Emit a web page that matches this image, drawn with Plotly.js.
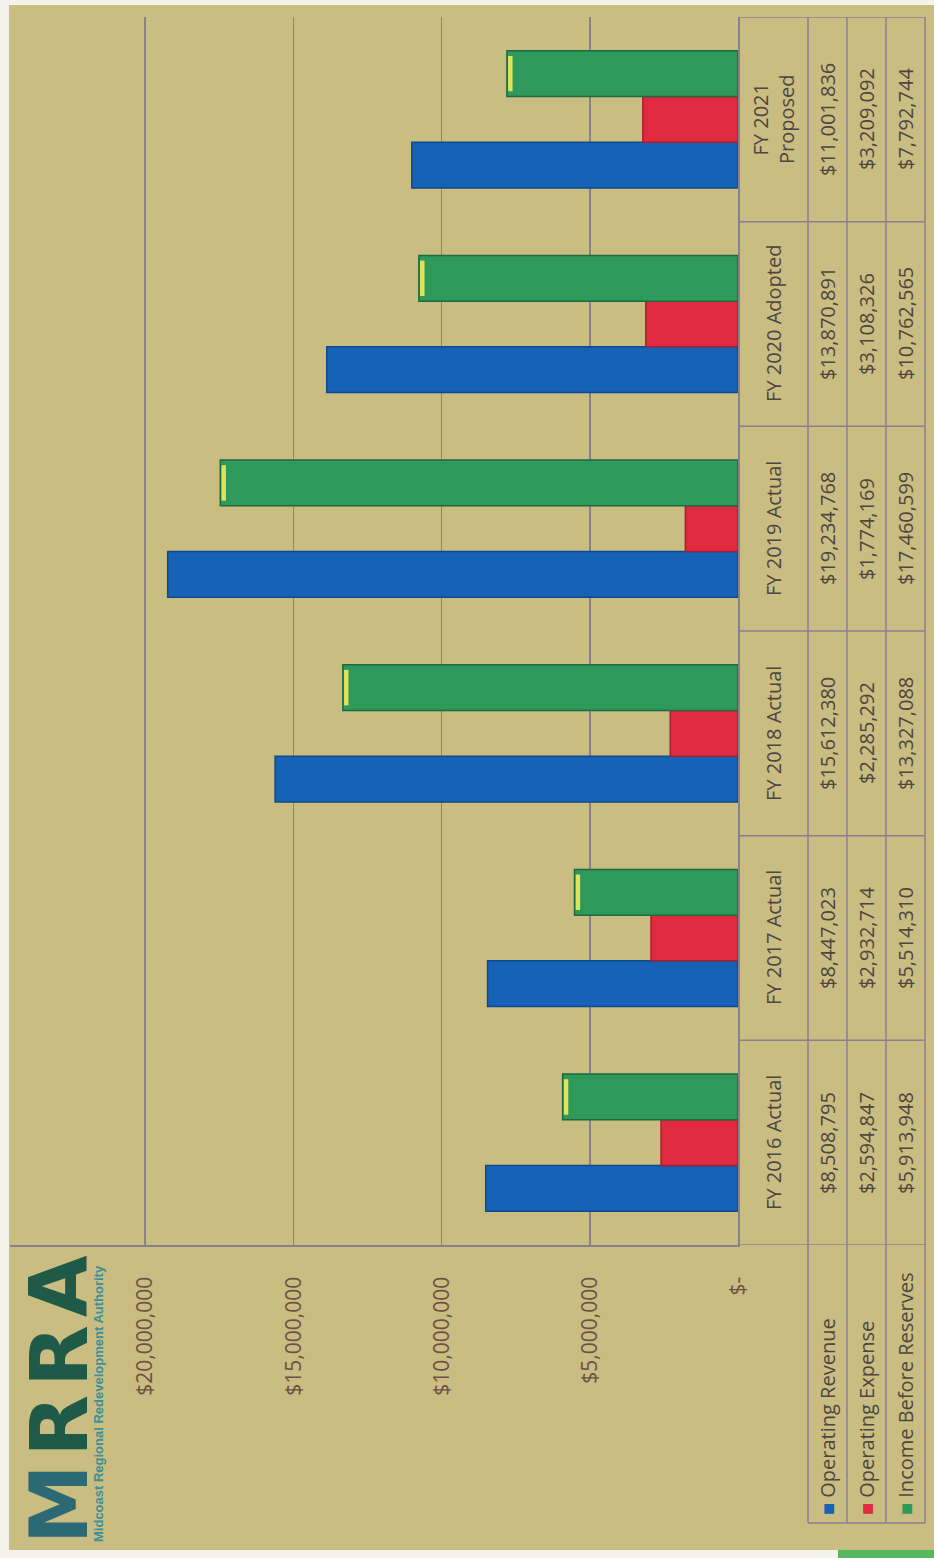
<!DOCTYPE html>
<html>
<head>
<meta charset="utf-8">
<script src="https://cdn.plot.ly/plotly-3.0.1.min.js"></script>
<style>
  html, body { margin: 0; padding: 0; background: #ffffff; width: 934px; height: 1558px; overflow: hidden; }
  /* The chart is laid out landscape and turned a quarter turn to sit on the portrait page */
  #frame { position: absolute; left: 0; top: 0; width: 1558px; height: 934px;
           transform-origin: 0 0; transform: translate(0px, 1558px) rotate(-90deg); }
  #chart { width: 1558px; height: 934px; }
</style>
</head>
<body>
<div id="frame"><div id="chart"></div></div>
<script>
// Fiscal years shown along the category axis and in the data table
const categories = ['FY 2016 Actual', 'FY 2017 Actual', 'FY 2018 Actual', 'FY 2019 Actual', 'FY 2020 Adopted', 'FY 2021<br>Proposed'];

// Series values in dollars
const operatingRevenue     = [8508795, 8447023, 15612380, 19234768, 13870891, 11001836];
const operatingExpense     = [2594847, 2932714, 2285292, 1774169, 3108326, 3209092];
const incomeBeforeReserves = [5913948, 5514310, 13327088, 17460599, 10762565, 7792744];

const seriesNames = ['Operating Revenue', 'Operating Expense', 'Income Before Reserves'];

// Value axis ticks
const tickValues = [0, 5000000, 10000000, 15000000, 20000000];
const tickLabels = ['$-', '$5,000,000', '$10,000,000', '$15,000,000', '$20,000,000'];

// ---- styling ----
const FIG_W = 1558, FIG_H = 934;
const BG = '#c9bd82';
const GRID = '#8a8090';
const TEXT = '#4e4640';
const TICK_TEXT = '#6e5044';
const FONT = 'Open Sans, Noto Sans, sans-serif';
const colors = ['#1662b6', '#e02a40', '#2f995c'];
const edges  = ['#0e4a8c', '#a81e30', '#1d6a3e'];
const BAR_W = 0.2233;
const offsets = [-1.5 * BAR_W, -0.5 * BAR_W, 0.5 * BAR_W];

// data-table geometry (pixels from the top-left of the landscape figure)
const TABLE_LEFT = 35, TABLE_RIGHT = 1541, AXIS_LEFT = 313;
const HEADER_TOP = 738, HEADER_MID = 773;
const ROW_EDGES = [808, 847, 886, 925];
const px = v => v / FIG_W;
const py = v => 1 - v / FIG_H;

const money = v => '$' + v.toLocaleString('en-US');
const seriesValues = [operatingRevenue, operatingExpense, incomeBeforeReserves];

const traces = seriesValues.map((vals, i) => ({
  type: 'bar',
  name: seriesNames[i],
  x: categories,
  y: vals,
  offset: offsets[i],
  width: BAR_W,
  marker: { color: colors[i], line: { color: edges[i], width: 1.5 } },
  showlegend: false,
  hoverinfo: 'skip'
}));

// yellow glint on the end of each green column
const GLINT = 150000;
traces.push({
  type: 'bar',
  x: categories,
  base: incomeBeforeReserves.map(v => v - 40000),
  y: incomeBeforeReserves.map(() => -GLINT),
  offset: offsets[2] + 0.025,
  width: BAR_W - 0.05,
  marker: { color: '#dde45a', line: { width: 0 } },
  showlegend: false,
  hoverinfo: 'skip'
});

// ---- data table: text ----
const tableFont = { family: FONT, size: 20, color: TEXT };
const annotations = [];

categories.forEach(c => annotations.push({
  xref: 'x', yref: 'paper', x: c, y: py(HEADER_MID), yanchor: 'middle', xanchor: 'center',
  text: c, showarrow: false, font: tableFont
}));

seriesValues.forEach((s, r) => {
  const mid = (ROW_EDGES[r] + ROW_EDGES[r + 1]) / 2;
  annotations.push({
    xref: 'paper', yref: 'paper', x: px(TABLE_LEFT + 6), y: py(mid), xanchor: 'left', yanchor: 'middle',
    text: `<span style="color:${colors[r]}">■</span> ${seriesNames[r]}`, showarrow: false, font: tableFont
  });
  s.forEach((v, j) => annotations.push({
    xref: 'x', yref: 'paper', x: categories[j], y: py(mid), xanchor: 'center', yanchor: 'middle',
    text: money(v), showarrow: false, font: tableFont
  }));
});

// logo
annotations.push(
  {
    xref: 'paper', yref: 'paper', x: px(12), y: py(59), xanchor: 'left', yanchor: 'middle', showarrow: false,
    text: '<span style="color:#2b6a74">M</span>\u200AR\u200AR\u200AA',
    font: { family: 'DejaVu Sans', size: 80, color: '#1f5a48', weight: 'bold' }
  },
  {
    xref: 'paper', yref: 'paper', x: px(14), y: py(98), xanchor: 'left', yanchor: 'middle', showarrow: false,
    text: 'Midcoast Regional Redevelopment Authority',
    font: { family: 'Liberation Sans', size: 13, color: '#3d8f98', weight: 'bold' }
  }
);

// ---- data table: ruling ----
const rule = { color: GRID, width: 1.5 };
const shapes = [];
for (let k = 0; k <= categories.length; k++) {
  shapes.push({ type: 'line', xref: 'x', yref: 'paper', x0: k - 0.5, x1: k - 0.5,
                y0: py(ROW_EDGES[ROW_EDGES.length - 1]), y1: py(HEADER_TOP), line: rule });
}
ROW_EDGES.forEach(e => shapes.push({ type: 'line', xref: 'paper', yref: 'paper',
  x0: px(TABLE_LEFT), x1: px(TABLE_RIGHT), y0: py(e), y1: py(e), line: rule }));
shapes.push({ type: 'line', xref: 'paper', yref: 'paper', x0: px(TABLE_LEFT), x1: px(TABLE_LEFT),
  y0: py(ROW_EDGES[0]), y1: py(ROW_EDGES[ROW_EDGES.length - 1]), line: rule });

// scanned page edges
const edge = (x0, x1, y0, y1, c) => ({ type: 'rect', xref: 'paper', yref: 'paper', x0, x1, y0, y1,
  fillcolor: c, line: { width: 0 }, layer: 'above' });
shapes.push(
  edge(0, 1, py(9), 1, '#f4f2ea'),
  edge(px(1553), 1, 0, 1, '#f4f2ea'),
  edge(0, px(8), py(838), 1, '#f4f2ea'),
  edge(0, px(8), 0, py(838), '#58b862')
);

const layout = {
  width: FIG_W,
  height: FIG_H,
  margin: { l: 0, r: 0, t: 0, b: 0 },
  paper_bgcolor: BG,
  plot_bgcolor: 'rgba(0,0,0,0)',
  barmode: 'overlay',
  showlegend: false,
  xaxis: {
    domain: [px(AXIS_LEFT), px(TABLE_RIGHT)],
    type: 'category',
    range: [-0.5, categories.length - 0.5],
    showticklabels: false,
    showgrid: false,
    zeroline: false,
    showline: true,
    linecolor: GRID,
    linewidth: 1.5,
    fixedrange: true
  },
  yaxis: {
    domain: [1 - HEADER_TOP / FIG_H, 1 - 10 / FIG_H],
    range: [0, 24553000],
    tickvals: tickValues,
    ticktext: tickLabels,
    tickfont: { family: FONT, size: 21, color: TICK_TEXT },
    ticks: '',
    ticklabelstandoff: 26,
    showgrid: true,
    gridcolor: GRID,
    gridwidth: 1.5,
    zeroline: false,
    showline: true,
    linecolor: GRID,
    linewidth: 1.5,
    fixedrange: true
  },
  annotations,
  shapes
};

Plotly.newPlot('chart', traces, layout, { displayModeBar: false, staticPlot: true });
</script>
</body>
</html>
